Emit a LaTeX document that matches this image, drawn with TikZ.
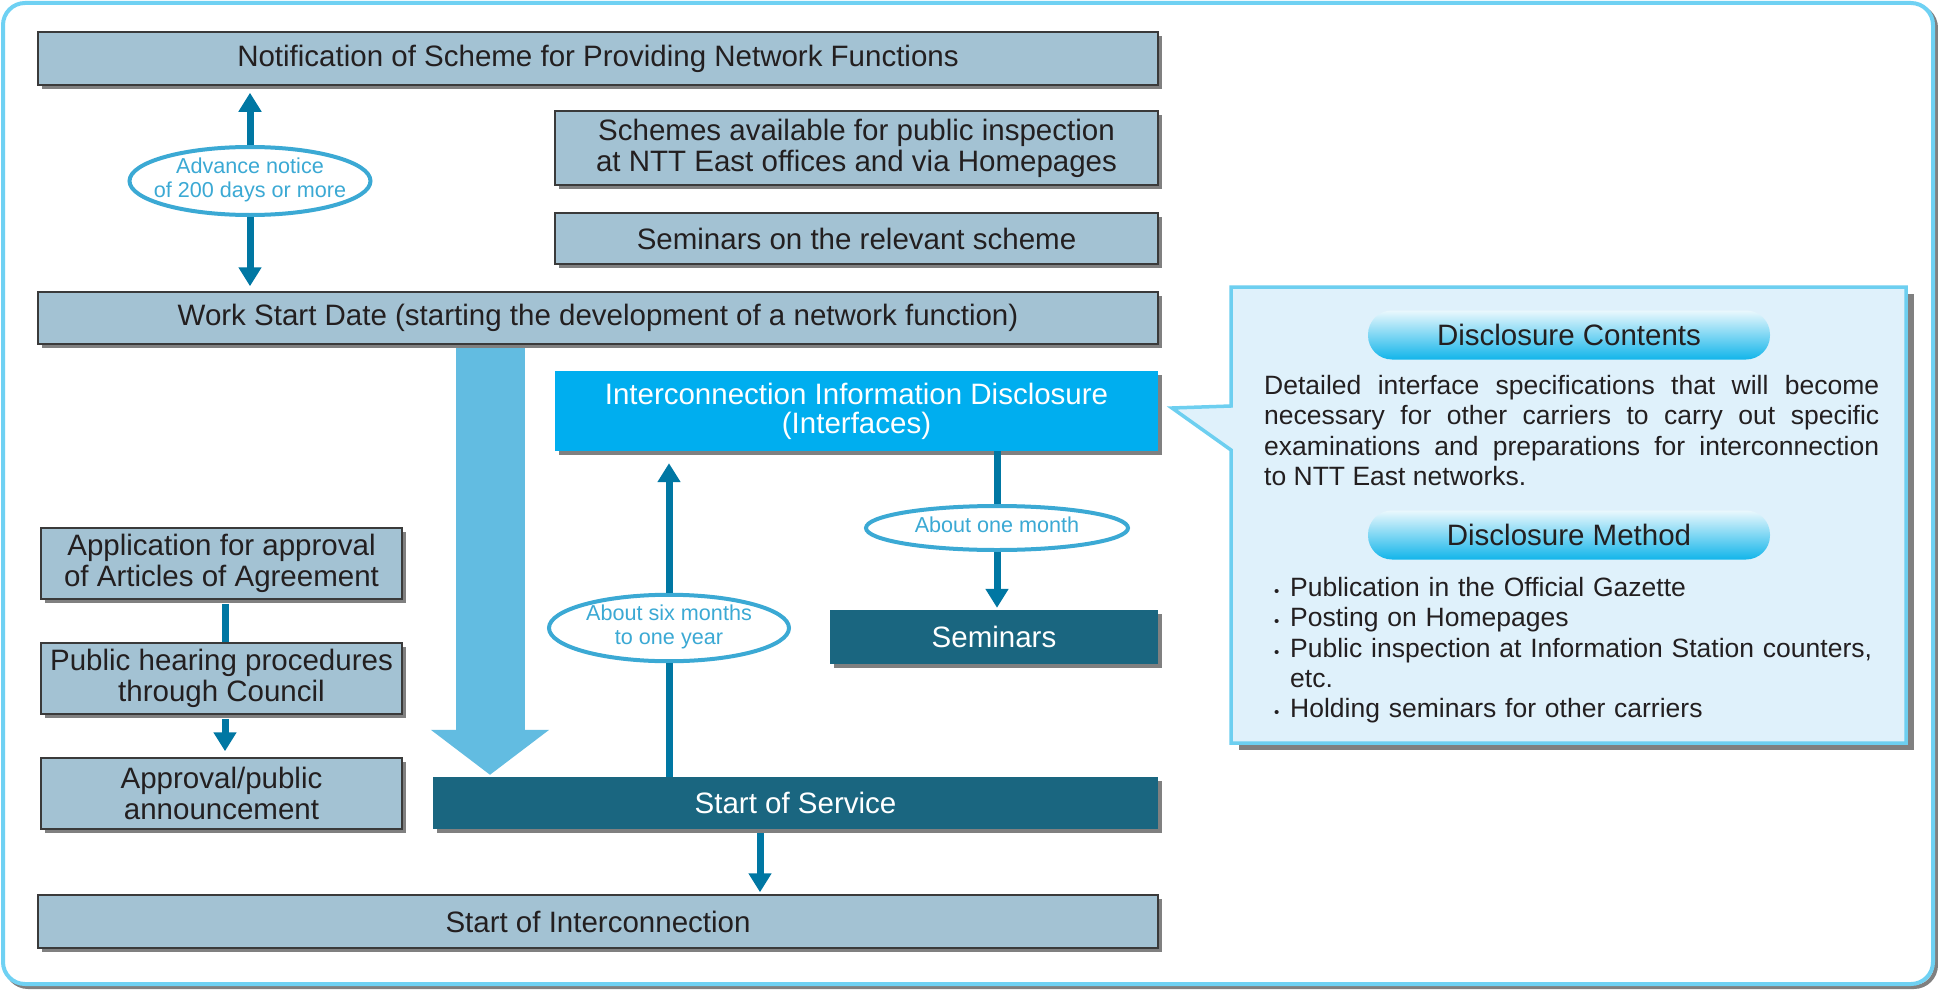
\documentclass[tikz,border=0pt]{standalone}
\usepackage{fontspec}
\setmainfont{Liberation Sans}
\usetikzlibrary{arrows.meta,shapes.geometric,shadows}
\definecolor{boxfill}{HTML}{A3C2D3}
\definecolor{boxline}{HTML}{3A3A3A}
\definecolor{shadowgray}{HTML}{808080}
\definecolor{darkteal}{HTML}{1A6680}
\definecolor{cyanbox}{HTML}{00AEEF}
\definecolor{arrowblue}{HTML}{0077A3}
\definecolor{bigblue}{HTML}{62BCE1}
\definecolor{ellline}{HTML}{3BA9D4}
\definecolor{framecol}{HTML}{6FD1F3}
\definecolor{calfill}{HTML}{DFF1FB}
\definecolor{calline}{HTML}{6DCFF0}
\definecolor{textdark}{HTML}{231F20}
\definecolor{pilltop}{HTML}{EAF8FD}
\definecolor{pillmid}{HTML}{9ADCF5}
\definecolor{pillbot}{HTML}{12B5EA}
\newcommand{\fmain}{\fontsize{29.5pt}{31pt}\selectfont}
\newcommand{\fell}{\fontsize{21.6pt}{23.5pt}\selectfont}
\newcommand{\fbody}{\fontsize{26.5pt}{30.3pt}\selectfont}
\newcommand{\ellbox}[1]{\makebox[100pt][c]{\begin{tabular}{@{}c@{}}#1\end{tabular}}}
\newcommand{\bdot}{\makebox[17pt][l]{\hspace{1pt}{\fontsize{15pt}{15pt}\selectfont •}}}
\begin{document}
\begin{tikzpicture}[x=1pt,y=-1pt,
  shad/.style={drop shadow={shadow xshift=4pt, shadow yshift=-4pt, fill=shadowgray, opacity=1}},
  box/.style={shad, draw=boxline, line width=1.5pt, fill=boxfill, text=textdark, inner sep=0pt, align=center, font=\fmain},
  dbox/.style={shad, fill=darkteal, text=white, inner sep=0pt, align=center, font=\fmain},
  cbox/.style={shad, fill=cyanbox, text=white, inner sep=0pt, align=center, font=\fmain},
  lab/.style={ellipse, draw=ellline, line width=4pt, fill=white, text=ellline, inner sep=0pt, font=\fell},
  conn/.style={draw=arrowblue, line width=7pt},
  tipped/.style={conn, -{Triangle[width=22pt,length=19pt]}},
  bigarr/.style={draw=bigblue, line width=69pt, -{Triangle[width=116pt,length=45pt]}},
  pill/.style={rounded corners=24pt, minimum width=402pt, minimum height=49pt, top color=pilltop, middle color=pillmid, bottom color=pillbot, text=textdark, inner sep=0pt, font=\fmain},
]
\useasboundingbox (0,0) rectangle (1938,990);
% outer frame
\draw[shadowgray, line width=4pt, rounded corners=22pt] (6,6) rectangle (1936,987);
\draw[framecol, fill=white, line width=4pt, rounded corners=22pt] (3,3) rectangle (1933,984);

% main boxes
\node[box, minimum width=1120pt, minimum height=53pt] (notif) at (598,58.5) {Notification of Scheme for Providing Network Functions};
\node[box, minimum width=603pt, minimum height=74pt] (schemes) at (856.5,148) {Schemes available for public inspection\\ at NTT East offices and via Homepages};
\node[box, minimum width=603pt, minimum height=51pt] (semscheme) at (856.5,238.5) {Seminars on the relevant scheme};
\node[box, minimum width=1120pt, minimum height=52pt] (work) at (598,318) {Work Start Date (starting the development of a network function)};
\node[cbox, minimum width=603pt, minimum height=80pt, font=\fontsize{29.5pt}{29pt}\selectfont] (info) at (856.5,411) {Interconnection Information Disclosure\\(Interfaces)};
\node[dbox, minimum width=328pt, minimum height=54pt] (sem) at (994,637) {Seminars};
\node[dbox, minimum width=725pt, minimum height=52pt] (sos) at (795.5,803) {Start of Service};
\node[box, minimum width=1120pt, minimum height=53pt] (soi) at (598,921.5) {Start of Interconnection};
\node[box, minimum width=361pt, minimum height=71pt] (app) at (221.5,563.5) {Application for approval\\of Articles of Agreement};
\node[box, minimum width=361pt, minimum height=71pt] (pub) at (221.5,678.5) {Public hearing procedures\\through Council};
\node[box, minimum width=361pt, minimum height=71pt] (appr) at (221.5,793.5) {Approval/public\\announcement};

% ellipse labels
\node[lab, minimum width=241pt, minimum height=68pt] (ell1) at (250,181) {\ellbox{Advance notice\\of 200 days or more}};
\node[lab, minimum width=240pt, minimum height=66pt] (six) at (669,628) {\ellbox{About six months\\to one year}};
\node[lab, minimum width=262pt, minimum height=44pt] (one) at (997,528) {\ellbox{About one month}};

% connectors
\draw[tipped, shorten >=7pt] (ell1.north) -- (ell1 |- notif.south);
\draw[tipped, shorten >=5pt] (ell1.south) -- (ell1 |- work.north);
\draw[conn] (six |- sos.north) -- (six.south);
\draw[tipped, shorten >=12pt] (six.north) -- (six |- info.south);
\draw[conn] (one |- info.south) -- (one.north);
\draw[tipped, shorten >=2pt] (one.south) -- (one |- sem.north);
\coordinate (sx) at (760,0);
\draw[tipped, shorten >=2pt, shorten <=4pt] (sx |- sos.south) -- (sx |- soi.north);
\coordinate (lx) at (225,0);
\draw[conn, shorten <=4pt] (lx |- app.south) -- (lx |- pub.north);
\draw[tipped, shorten >=6pt, shorten <=4pt] (lx |- pub.south) -- (lx |- appr.north);
\coordinate (bx) at (490,0);
\draw[bigarr, shorten <=3pt, shorten >=2pt] (bx |- work.south) -- (bx |- sos.north);

% callout
\fill[shadowgray] (1239,294) rectangle (1914,750);
\draw[fill=calfill, draw=calline, line width=3.5pt, line join=miter] (1231,287) -- (1906,287) -- (1906,743) -- (1231,743) -- (1231,450) -- (1172,408) -- (1231,406) -- cycle;
\node[pill] (dc) at (1569,335) {Disclosure Contents};
\node[anchor=north west, text width=615pt, align=justify, inner sep=0pt, font=\fbody, text=textdark] (dctext) at (1264,375)
  {Detailed interface specifications that will become\linebreak necessary for other carriers to carry out specific\linebreak examinations and preparations for interconnection\linebreak to NTT East networks.};
\node[pill] (dm) at (1569,535) {Disclosure Method};
\node[anchor=north west, text width=620pt, align=left, inner sep=0pt, font=\fbody, text=textdark] (dmtext) at (1273,577)
  {\bdot Publication in the Official Gazette\\
   \bdot Posting on Homepages\\
   \bdot Public inspection at Information Station counters,\\
   \hspace*{17pt}etc.\\
   \bdot Holding seminars for other carriers};
\end{tikzpicture}
\end{document}
